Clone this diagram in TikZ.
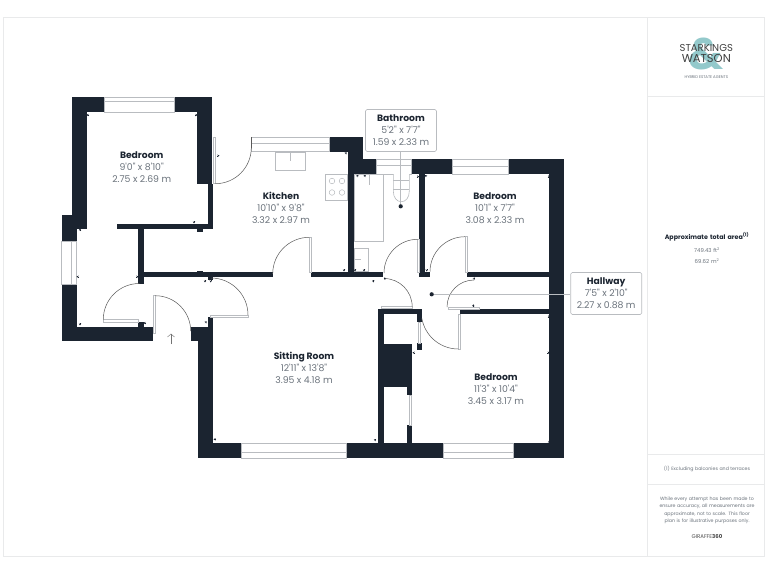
\documentclass[tikz,border=0pt]{standalone}
\usepackage{fontspec}
\usetikzlibrary{arrows.meta}
\newfontfamily\planfont{Poppins}
\definecolor{wallnavy}{HTML}{1B2430}
\definecolor{textgrey}{HTML}{6B737C}
\definecolor{linegrey}{HTML}{B9BCC0}
\definecolor{framegrey}{HTML}{E9EAEB}
\definecolor{logoteal}{HTML}{93C9CB}
\begin{document}
\begin{tikzpicture}[x=1pt,y=-1pt,font=\planfont]
    \tikzstyle{wall}=[fill=wallnavy]
    \tikzstyle{window}=[draw=linegrey,fill=white,line width=0.7pt]
    \tikzstyle{leaf}=[draw=linegrey,fill=white,line width=0.6pt]
    \tikzstyle{swing}=[draw=black!65,line width=0.5pt]
    \tikzstyle{fixture}=[draw=linegrey,line width=0.9pt,fill=white]
    \tikzstyle{frameline}=[draw=framegrey,line width=1pt]
    \tikzstyle{dimtick}=[wallnavy,line width=0.3pt,-{Stealth[length=2pt,width=2.4pt]}]
    \tikzstyle{room}=[text=textgrey,align=center,inner sep=1pt,font=\planfont\fontsize{9.3}{12}\selectfont]
    \tikzstyle{callout}=[room,draw=linegrey,fill=white,rounded corners=1.5pt,minimum width=71pt,minimum height=42pt,line width=0.6pt]
    \tikzstyle{leader}=[draw=linegrey,line width=0.5pt]
    \tikzstyle{dot}=[circle,fill=wallnavy,minimum size=4.2pt,inner sep=0pt]
    \tikzstyle{side}=[text=textgrey,align=center,text width=110pt,inner sep=0pt,font=\planfont\fontsize{4.7}{7.6}\selectfont]
    \newcommand{\roomname}[1]{{\color{wallnavy}\bfseries\fontsize{9.2}{12}\selectfont #1}}

    \useasboundingbox (0,0) rectangle (768,576);
    \fill[white] (0,0) rectangle (768,576);

    % Draw the page frame and the side panel
    \draw[frameline] (3.5,17.5) rectangle (764.5,556.5);
    \draw[frameline] (647.5,17.5) -- (647.5,556.5);
    \foreach \y in {96,454,484}
        \draw[frameline] (647.5,\y) -- (764.5,\y);

    % Draw the outer walls
    \foreach \xa/\ya/\xb/\yb in {71.7/97/104/112, 174/97/212/112, 71.7/112/86.7/229, 197/112/212/184,
        61.7/215/71.7/241.7, 71.7/229/76.7/241.7, 61.7/284/76.7/341, 76.7/326.5/153.3/341, 138/321.7/144/326.5,
        190.7/326.7/213.3/341, 207.7/317.3/213.3/326.7, 198.3/341/213.3/458.3, 213.3/443.3/241/458.3,
        346.3/443.3/443.3/458.3, 513.3/443.3/564.3/458.3, 549.3/174/564.3/443.3,
        508.3/159.3/564.3/174, 411.7/159.3/452.7/174, 348.3/159.3/376/174, 348.3/151.7/362.7/159.3, 329.3/136.7/362.7/151.7}
        \fill[wall] (\xa,\ya) rectangle (\xb,\yb);

    % Draw the inner walls
    \foreach \xa/\ya/\xb/\yb in {207.7/184/213/229.3, 116.7/223.7/213/229.3, 197/229/202.7/232, 138/229/144/284,
        138/272/272.7/277.3, 197/270.5/202.7/272, 208/277/213.3/279.6, 310.7/272/383.3/277.3, 348.3/174/354/272,
        419.3/174/425.3/277.3, 419.3/272/430/277.3, 466.7/272/549.3/277.3, 460/309/549.3/314.3,
        378.3/308.5/384/443.3, 378.3/308.5/421.7/313.6, 416.7/308.5/421.7/322.3, 416.7/343.3/421.7/350,
        384/344.3/412.3/350, 384/350/412.3/387.3, 407.3/387.3/412.3/395, 407.3/425/412.3/443.3}
        \fill[wall] (\xa,\ya) rectangle (\xb,\yb);

    % Draw the windows
    \foreach \xa/\ya/\xb/\yb/\xm/\ym/\xn/\yn in {104/97/174/112/104/101.5/174/101.5, 61.7/241.7/76.7/284/71.7/241.7/71.7/284,
        241/443.3/346.3/458.3/241/452/346.3/452, 443.3/443.3/513.3/458.3/443.3/452/513.3/452,
        251.3/137.3/329.3/151.7/251.3/143.5/329.3/143.5, 376/159.3/411.7/174/376/165.5/411.7/165.5,
        452.7/159.3/508.3/174/452.7/166/508.3/166}{
        \draw[window] (\xa,\ya) rectangle (\xb,\yb);
        \draw[window] (\xm,\ym) -- (\xn,\yn);
    }

    % Draw the kitchen and bathroom fittings
    \draw[fixture] (275.7,152.7) rectangle (305.7,170);
    \draw[draw=linegrey,line width=0.5pt] (290.7,152.7) -- (290.7,161);
    \draw[fixture,line width=0.6pt] (325.7,174.3) rectangle (347.3,200);
    \foreach \x in {332,342}
        \foreach \y in {181,192.5}
            \draw[draw=linegrey,line width=0.5pt] (\x,\y) circle (2.8pt);
    \draw[fixture] (354.5,174.7) rectangle (383.3,241.3);
    \draw[draw=linegrey,line width=0.5pt] (369,174.7) -- (369,185);
    \draw[fixture,line width=0.6pt] (354.5,248.3) rectangle (368.3,271.7);
    \draw[draw=linegrey,line width=0.5pt] (354.5,259.5) -- (361,259.5);
    \draw[fixture,line width=0.6pt] (393.3,174) -- (393.3,191) .. controls (393.3,198) and (397,201.7) .. (401.3,201.7)
        .. controls (405.6,201.7) and (409.3,198) .. (409.3,191) -- (409.3,174);
    \foreach \y in {180.7,189.3}
        \draw[draw=linegrey,line width=0.5pt] (393.3,\y) -- (409.3,\y);

    % Draw the doors, leaf first and then its swing
    \foreach \xa/\ya/\xb/\yb in {103.3/319.5/138/322, 153.3/295.7/155.3/333, 210/315/248/317.3, 309.3/237.3/310.9/272,
        213.3/137/215.3/183.7, 417.7/239.3/419.3/272, 465/236.7/466.9/272, 381/306.7/412.3/308.5, 448.3/307.3/479.3/309,
        458.3/314.3/460/349, 409/395/410.8/425, 418.3/322.3/420/343.3}
        \draw[leaf] (\xa,\ya) rectangle (\xb,\yb);
    \draw[swing] (103.3,319.5) arc (180:90:36pt);
    \draw[swing] (155.3,295.7) arc (90:0:35.4pt);
    \draw[swing] (248,315) arc (0:90:37pt);
    \draw[swing] (309.3,237.3) arc (90:180:36.6pt);
    \draw[swing] (215.3,183.7) arc (270:360:36pt);
    \draw[swing] (251.3,147.7) -- (251.3,137.3);
    \draw[swing] (417.7,239.3) arc (90:180:33.7pt);
    \draw[swing] (465,236.7) arc (90:180:35pt);
    \draw[swing] (384,278.5) arc (90:0:28.2pt);
    \draw[swing] (474,280) arc (90:180:27pt);
    \draw[swing] (458.3,349) arc (270:190:37pt);

    % Draw the small dimension marks
    \foreach \x/\y/\a in {89/115/180, 195/115/0, 217/155.7/0, 194/221/270, 80/231/90, 79/276.7/180, 136/276.7/0,
        80/323/270, 146/323/180, 205/280/270, 210.7/280/270, 205/323/45, 345/154/45, 344/269/270,
        356.7/176.7/45, 364/176.7/45, 416.7/176.7/0, 426.7/176.7/135, 547.7/176.7/0, 426.7/269/270,
        355/269/270, 364/269/270, 373.3/280/270, 385.7/279.3/135, 473.3/279.3/45, 473.3/306.7/90,
        547.7/316.7/0, 216/439.3/180, 374.3/440.7/45, 415/352.7/180, 547.3/352.7/0, 548.3/441/315}
        \draw[dimtick] (\x,\y) -- ++(\a:2.4pt);

    % Draw the logo
    \node[text=logoteal,font=\planfont\bfseries\fontsize{44}{44}\selectfont,inner sep=0pt] (amp) at (706,54) {\&};
    \node[text=black!75,font=\planfont\fontsize{10}{10}\selectfont,inner sep=0pt] (stark) at (706.3,48) {STARKINGS};
    \node[text=black!75,font=\planfont\fontsize{11.5}{11.5}\selectfont,inner sep=0pt] (watson) at (706.3,58.3) {WATSON};
    \node[text=textgrey,font=\planfont\fontsize{3.9}{4}\selectfont,inner sep=0pt] (tag) at (706.3,76.7) {HYBRID ESTATE AGENTS};

    % Annotate the rooms
    \node[room] (bed-1) at (141.7,167.3) {\roomname{Bedroom}\\9'0" x 8'10"\\2.75 x 2.69 m};
    \node[room] (kitchen) at (281,208.3) {\roomname{Kitchen}\\10'10" x 9'8"\\3.32 x 2.97 m};
    \node[room] (bed-2) at (495,208.3) {\roomname{Bedroom}\\10'1" x 7'7"\\3.08 x 2.33 m};
    \node[room] (sitting) at (304,368.3) {\roomname{Sitting Room}\\12'11" x 13'8"\\3.95 x 4.18 m};
    \node[room] (bed-3) at (496,388.7) {\roomname{Bedroom}\\11'3" x 10'4"\\3.45 x 3.17 m};

    % Draw the callouts and their leaders
    \node[dot] (bath-dot) at (400.7,206.3) {};
    \node[dot] (hall-dot) at (431.7,294.3) {};
    \node[callout] (bath) at (401,130.5) {\roomname{Bathroom}\\5'2" x 7'7"\\1.59 x 2.33 m};
    \node[callout] (hall) at (606.2,293.5) {\roomname{Hallway}\\7'5" x 2'10"\\2.27 x 0.88 m};
    \draw[leader] (bath-dot) -- (bath-dot |- bath.south);
    \draw[leader] (hall-dot) -- (hall-dot -| hall.west);

    % Draw the entrance arrow
    \node[inner sep=0pt] (entry) at (171,333) {};
    \draw[draw=black!55,line width=0.4pt,-{Straight Barb[length=3pt,width=7pt]}] (171,344) -- (entry);

    % Annotate the side panel
    \node[side,text=wallnavy,font=\planfont\fontsize{6.35}{8}\selectfont\bfseries] (area) at (707,237) {Approximate total area\textsuperscript{(1)}};
    \node[side,font=\planfont\fontsize{5.4}{7.6}\selectfont] (feet) at (707,250) {749.43 ft\textsuperscript{2}};
    \node[side,font=\planfont\fontsize{5.4}{7.6}\selectfont] (metres) at (707,260.7) {69.62 m\textsuperscript{2}};
    \node[side] (excl) at (707,469) {(1) Excluding balconies and terraces};
    \node[side] (note) at (707,510.3) {While every attempt has been made to\\ensure accuracy, all measurements are\\approximate, not to scale. This floor\\plan is for illustrative purposes only.};
    \node[side,text=black!70,font=\planfont\fontsize{5.4}{7}\selectfont] (giraffe) at (707,536.7) {GIRAFFE\textbf{360}};
\end{tikzpicture}
\end{document}
